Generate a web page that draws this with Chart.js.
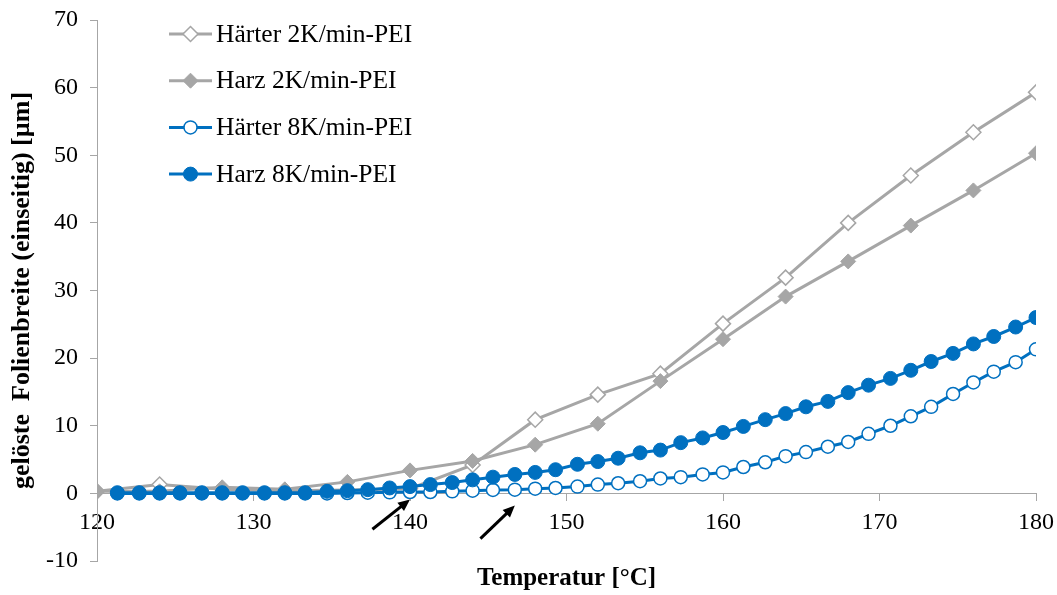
<!DOCTYPE html>
<html>
<head>
<meta charset="utf-8">
<script src="https://cdn.jsdelivr.net/npm/chart.js@4.4.0/dist/chart.umd.min.js"></script>
<style>
  html, body { margin: 0; padding: 0; background: #fff; }
  #wrap { width: 1057px; height: 595px; }
</style>
</head>
<body>
<div id="wrap"><canvas id="chart"></canvas></div>
<script>
// === Data ===
const temps2K = [120, 124, 128, 132, 136, 140, 144, 148, 152, 156, 160, 164, 168, 172, 176, 180];
const haerter2K = [0.3, 1.3, 0.6, 0.4, 0.5, 0.7, 4.2, 10.9, 14.6, 17.7, 25.1, 31.9, 40.0, 47.0, 53.4, 59.3];
const harz2K = [0.3, 0.3, 0.9, 0.6, 1.7, 3.4, 4.8, 7.2, 10.3, 16.6, 22.8, 29.1, 34.3, 39.6, 44.8, 50.3];

const temps8K = [121.3, 122.7, 124, 125.3, 126.7, 128, 129.3, 130.7, 132, 133.3,
  134.7, 136, 137.3, 138.7, 140, 141.3, 142.7, 144, 145.3, 146.7,
  148, 149.3, 150.7, 152, 153.3, 154.7, 156, 157.3, 158.7, 160,
  161.3, 162.7, 164, 165.3, 166.7, 168, 169.3, 170.7, 172, 173.3,
  174.7, 176, 177.3, 178.7, 180];
const haerter8K = [0, 0, 0, 0, 0, 0, 0, 0, 0, 0,
  0.0, 0.05, 0.1, 0.15, 0.2, 0.2, 0.3, 0.4, 0.5, 0.55,
  0.7, 0.8, 1.0, 1.3, 1.5, 1.8, 2.2, 2.4, 2.8, 3.1,
  3.9, 4.6, 5.5, 6.1, 6.9, 7.6, 8.8, 10.0, 11.4, 12.8,
  14.7, 16.4, 18.0, 19.4, 21.3];
const harz8K = [0.1, 0.1, 0.1, 0.1, 0.1, 0.1, 0.1, 0.1, 0.1, 0.1,
  0.3, 0.4, 0.55, 0.8, 1.0, 1.3, 1.6, 2.0, 2.4, 2.8,
  3.1, 3.5, 4.3, 4.7, 5.2, 6.0, 6.4, 7.5, 8.2, 9.0,
  9.9, 10.9, 11.8, 12.8, 13.6, 14.9, 16.0, 17.0, 18.2, 19.5,
  20.7, 22.1, 23.2, 24.6, 26.0];

const seriesNames = ["Härter 2K/min-PEI", "Harz 2K/min-PEI", "Härter 8K/min-PEI", "Harz 8K/min-PEI"];
const xTitle = "Temperatur [°C]";
const yTitle = "gelöste  Folienbreite (einseitig) [µm]";

// onset arrows, in data units: [fromX, fromY, toX, toY]
const arrows = [
  [137.6, -5.3, 140.0, -0.9],
  [144.5, -6.7, 146.7, -1.8],
];

const GRAY = "#a6a6a6";
const BLUE = "#0070c0";
const FONT = "'Liberation Serif', 'Times New Roman', serif";

const pts = (xs, ys) => xs.map((x, i) => ({ x, y: ys[i] }));

// === Marker helper (used by the legend) ===
function drawMarker(ctx, style, x, y, r) {
  ctx.beginPath();
  if (style === "rectRot") {
    ctx.moveTo(x - r, y);
    ctx.lineTo(x, y - r);
    ctx.lineTo(x + r, y);
    ctx.lineTo(x, y + r);
    ctx.closePath();
  } else {
    ctx.arc(x, y, r, 0, Math.PI * 2);
  }
  ctx.fill();
  ctx.stroke();
}

// === Legend inside the plot, line + marker ===
const legendPlugin = {
  id: "innerLegend",
  afterDraw(chart) {
    const { ctx } = chart;
    ctx.save();
    chart.data.datasets.forEach((ds, i) => {
      const y = 34 + i * 46.7;
      ctx.strokeStyle = ds.borderColor;
      ctx.lineWidth = ds.borderWidth;
      ctx.beginPath();
      ctx.moveTo(169, y);
      ctx.lineTo(212, y);
      ctx.stroke();
      ctx.fillStyle = ds.pointBackgroundColor;
      ctx.strokeStyle = ds.pointBorderColor;
      ctx.lineWidth = ds.pointBorderWidth;
      drawMarker(ctx, ds.pointStyle, 190.5, y, ds.pointRadius);
      ctx.fillStyle = "#000";
      ctx.font = "25.5px " + FONT;
      ctx.textBaseline = "middle";
      ctx.textAlign = "left";
      ctx.fillText(ds.label, 216, y + 1);
    });
    ctx.restore();
  },
};

// === Arrows + x title ===
const extrasPlugin = {
  id: "extras",
  afterDatasetsDraw(chart) {
    const { ctx, chartArea } = chart;
    const sx = chart.scales.x, sy = chart.scales.y;
    ctx.save();
    ctx.strokeStyle = "#000";
    ctx.fillStyle = "#000";
    ctx.lineWidth = 3;
    arrows.forEach(([x0, y0, x1, y1]) => {
      const px0 = sx.getPixelForValue(x0), py0 = sy.getPixelForValue(y0);
      const px1 = sx.getPixelForValue(x1), py1 = sy.getPixelForValue(y1);
      const ang = Math.atan2(py1 - py0, px1 - px0);
      const head = 13;
      ctx.beginPath();
      ctx.moveTo(px0, py0);
      ctx.lineTo(px1 - head * 0.7 * Math.cos(ang), py1 - head * 0.7 * Math.sin(ang));
      ctx.stroke();
      ctx.beginPath();
      ctx.moveTo(px1, py1);
      ctx.lineTo(px1 - head * Math.cos(ang - 0.42), py1 - head * Math.sin(ang - 0.42));
      ctx.lineTo(px1 - head * Math.cos(ang + 0.42), py1 - head * Math.sin(ang + 0.42));
      ctx.closePath();
      ctx.fill();
    });
    ctx.font = "bold 25px " + FONT;
    ctx.textAlign = "center";
    ctx.textBaseline = "middle";
    ctx.fillText(xTitle, (chartArea.left + chartArea.right) / 2, 579);
    ctx.restore();
  },
};

new Chart(document.getElementById("chart"), {
  type: "line",
  data: {
    datasets: [
      {
        label: seriesNames[0],
        data: pts(temps2K, haerter2K),
        borderColor: GRAY,
        borderWidth: 3,
        pointStyle: "rectRot",
        pointRadius: 7.5,
        pointBackgroundColor: "#fff",
        pointBorderColor: GRAY,
        pointBorderWidth: 1.5,
        order: 4,
      },
      {
        label: seriesNames[1],
        data: pts(temps2K, harz2K),
        borderColor: GRAY,
        borderWidth: 3,
        pointStyle: "rectRot",
        pointRadius: 7.5,
        pointBackgroundColor: GRAY,
        pointBorderColor: GRAY,
        pointBorderWidth: 1,
        order: 3,
      },
      {
        label: seriesNames[2],
        data: pts(temps8K, haerter8K),
        borderColor: BLUE,
        borderWidth: 3,
        pointStyle: "circle",
        pointRadius: 6.5,
        pointBackgroundColor: "#fff",
        pointBorderColor: BLUE,
        pointBorderWidth: 1.5,
        order: 2,
      },
      {
        label: seriesNames[3],
        data: pts(temps8K, harz8K),
        borderColor: BLUE,
        borderWidth: 3,
        pointStyle: "circle",
        pointRadius: 7,
        pointBackgroundColor: BLUE,
        pointBorderColor: BLUE,
        pointBorderWidth: 1,
        order: 1,
      },
    ],
  },
  options: {
    responsive: true,
    maintainAspectRatio: false,
    animation: false,
    layout: { padding: { left: 0, right: 21, top: 20, bottom: 34 } },
    plugins: {
      legend: { display: false },
      tooltip: { enabled: false },
    },
    elements: { line: { tension: 0 } },
    scales: {
      x: {
        type: "linear",
        position: { y: 0 },
        min: 120,
        max: 180,
        afterFit: (s) => { s.paddingLeft = 0; s.paddingRight = 0; },
        ticks: {
          stepSize: 10,
          color: "#000",
          font: { family: FONT, size: 24 },
          padding: 8,
          maxRotation: 0,
        },
        grid: { drawOnChartArea: false, tickLength: 7, color: GRAY },
        border: { color: GRAY, width: 1 },
      },
      y: {
        min: -10,
        max: 70,
        afterFit: (s) => { s.width = 97; s.paddingTop = 0; s.paddingBottom = 0; },
        ticks: {
          stepSize: 10,
          color: "#000",
          font: { family: FONT, size: 24 },
          padding: 12,
        },
        grid: { drawOnChartArea: false, tickLength: 7, color: GRAY },
        border: { color: GRAY, width: 1 },
        title: {
          display: true,
          text: yTitle,
          color: "#000",
          font: { family: FONT, size: 26, weight: "bold" },
          padding: { top: 7, bottom: 0 },
        },
      },
    },
  },
  plugins: [legendPlugin, extrasPlugin],
});
</script>
</body>
</html>
